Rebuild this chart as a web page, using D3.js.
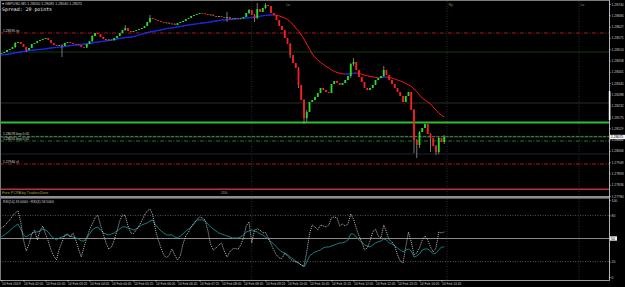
<!DOCTYPE html>
<html>
<head>
<meta charset="utf-8">
<script src="https://cdn.jsdelivr.net/npm/d3@7"></script>
<style>
  html, body { margin: 0; padding: 0; background: #000; overflow: hidden; }
  svg { display: block; font-family: "Liberation Sans", Arial, sans-serif; }
</style>
</head>
<body>
<svg id="chart" width="625" height="287"></svg>
<script>
// ---- data ----
const symbol = 'GBPUSD,M5';
const spreadPoints = 20;

const priceTicks = [1.28740, 1.28684, 1.28627, 1.28571, 1.28514, 1.28458, 1.28401, 1.28345, 1.28288,
  1.28232, 1.28175, 1.28119, 1.28062, 1.28006, 1.27949, 1.27893, 1.27836, 1.27780];

const timeLabels = ['14 Feb 2019', '14 Feb 02:05', '14 Feb 02:45', '14 Feb 03:25', '14 Feb 04:05',
  '14 Feb 04:45', '14 Feb 05:25', '14 Feb 06:05', '14 Feb 06:45', '14 Feb 07:25', '14 Feb 08:05',
  '14 Feb 08:45', '14 Feb 09:25', '14 Feb 10:05', '14 Feb 10:45', '14 Feb 11:25', '14 Feb 12:05',
  '14 Feb 12:45', '14 Feb 13:25', '14 Feb 14:05', '14 Feb 14:45'];
const barsPerLabel = 8;

const firstOpen = 1.28492;
const closes = [
  1.28495, 1.28500, 1.28510, 1.28515, 1.28525, 1.28545, 1.28550, 1.28540, 1.28525, 1.28510,
  1.28520, 1.28540, 1.28545, 1.28555, 1.28560, 1.28565, 1.28570, 1.28560, 1.28545, 1.28535,
  1.28530, 1.28535, 1.28530, 1.28545, 1.28550, 1.28545, 1.28540, 1.28538, 1.28535, 1.28525,
  1.28522, 1.28540, 1.28555, 1.28580, 1.28595, 1.28590, 1.28575, 1.28565, 1.28560, 1.28562,
  1.28558, 1.28570, 1.28580, 1.28595, 1.28610, 1.28620, 1.28605, 1.28600, 1.28605, 1.28610,
  1.28615, 1.28620, 1.28630, 1.28650, 1.28670, 1.28665, 1.28660, 1.28655, 1.28650, 1.28645,
  1.28647, 1.28640, 1.28642, 1.28635, 1.28645, 1.28650, 1.28655, 1.28665, 1.28670, 1.28680,
  1.28685, 1.28690, 1.28695, 1.28693, 1.28690, 1.28685, 1.28687, 1.28680, 1.28675, 1.28680,
  1.28675, 1.28670, 1.28675, 1.28665, 1.28667, 1.28670, 1.28665, 1.28668, 1.28675, 1.28695,
  1.28710, 1.28685, 1.28670, 1.28715, 1.28700, 1.28720, 1.28735, 1.28730, 1.28695, 1.28685,
  1.28660, 1.28630, 1.28610, 1.28570, 1.28540, 1.28485, 1.28445, 1.28420, 1.28335, 1.28260,
  1.28170, 1.28200, 1.28250, 1.28260, 1.28275, 1.28295, 1.28320, 1.28310, 1.28300, 1.28295,
  1.28340, 1.28355, 1.28345, 1.28335, 1.28345, 1.28360, 1.28380, 1.28440, 1.28450, 1.28410,
  1.28375, 1.28350, 1.28320, 1.28310, 1.28320, 1.28335, 1.28360, 1.28370, 1.28380, 1.28410,
  1.28385, 1.28360, 1.28340, 1.28320, 1.28300, 1.28280, 1.28250, 1.28280, 1.28300, 1.28210,
  1.28060, 1.28035, 1.28100, 1.28120, 1.28140, 1.28090, 1.28070, 1.28030, 1.28000, 1.28070,
  1.28050, 1.28075
];

// bars whose high/low reach beyond the body: [bar, high, low]
const wicks = [
  [5, 1.28550, 1.28520], [9, 1.28525, 1.28500], [22, 1.28540, 1.28475], [33, 1.28585, 1.28550],
  [45, 1.28635, 1.28605], [54, 1.28685, 1.28645], [82, 1.28700, 1.28650], [90, 1.28715, 1.28690],
  [92, 1.28690, 1.28650], [93, 1.28745, 1.28665], [96, 1.28745, 1.28715], [105, 1.28545, 1.28470],
  [108, 1.28425, 1.28320], [110, 1.28265, 1.28140], [111, 1.28210, 1.28150], [127, 1.28445, 1.28370],
  [128, 1.28470, 1.28430], [139, 1.28430, 1.28375], [150, 1.28215, 1.27995], [151, 1.28065, 1.27970],
  [152, 1.28105, 1.28020], [156, 1.28095, 1.28000], [158, 1.28035, 1.27985], [159, 1.28075, 1.27990],
  [161, 1.28085, 1.28040]
];

const maLine = [
  1.28485, 1.28487, 1.28488, 1.28490, 1.28493, 1.28495, 1.28498, 1.28500, 1.28503, 1.28505,
  1.28508, 1.28509, 1.28510, 1.28512, 1.28513, 1.28514, 1.28515, 1.28518, 1.28520, 1.28522,
  1.28523, 1.28524, 1.28525, 1.28528, 1.28530, 1.28532, 1.28533, 1.28534, 1.28535, 1.28538,
  1.28540, 1.28542, 1.28543, 1.28545, 1.28548, 1.28550, 1.28552, 1.28554, 1.28555, 1.28558,
  1.28560, 1.28563, 1.28565, 1.28568, 1.28570, 1.28572, 1.28573, 1.28575, 1.28577, 1.28580,
  1.28585, 1.28589, 1.28593, 1.28597, 1.28600, 1.28603, 1.28605, 1.28608, 1.28610, 1.28614,
  1.28617, 1.28619, 1.28621, 1.28623, 1.28625, 1.28628, 1.28630, 1.28633, 1.28635, 1.28637,
  1.28639, 1.28641, 1.28643, 1.28645, 1.28646, 1.28648, 1.28650, 1.28653, 1.28655, 1.28657,
  1.28659, 1.28660, 1.28662, 1.28663, 1.28664, 1.28665, 1.28666, 1.28668, 1.28669, 1.28670,
  1.28671, 1.28673, 1.28674, 1.28677, 1.28679, 1.28681, 1.28683, 1.28684, 1.28685, 1.28685,
  1.28684, 1.28680, 1.28675, 1.28670, 1.28663, 1.28650, 1.28638, 1.28620, 1.28605, 1.28585,
  1.28565, 1.28540, 1.28515, 1.28490, 1.28473, 1.28460, 1.28448, 1.28438, 1.28428, 1.28420,
  1.28410, 1.28403, 1.28398, 1.28394, 1.28391, 1.28389, 1.28390, 1.28392, 1.28394, 1.28395,
  1.28392, 1.28389, 1.28385, 1.28381, 1.28378, 1.28375, 1.28373, 1.28371, 1.28372, 1.28374,
  1.28375, 1.28373, 1.28370, 1.28365, 1.28360, 1.28355, 1.28350, 1.28343, 1.28335, 1.28328,
  1.28315, 1.28303, 1.28285, 1.28270, 1.28260, 1.28250, 1.28240, 1.28225, 1.28210, 1.28195,
  1.28183, 1.28175
];

const rsiFast = [
  63.7, 66.3, 70.2, 74.1, 79.3, 83.2, 85.8, 71.5, 48.1, 33.8,
  42.9, 55.9, 61.1, 48.1, 59.8, 66.3, 55.9, 46.8, 35.1, 27.3,
  22.1, 36.4, 45.5, 54.6, 55.9, 52.0, 57.2, 48.1, 36.4, 26.0,
  39.0, 50.7, 61.1, 68.9, 76.7, 80.6, 67.6, 55.9, 44.2, 36.4,
  39.0, 48.1, 59.8, 72.8, 80.6, 79.8, 66.3, 57.2, 56.5, 61.1,
  66.3, 72.8, 80.6, 85.8, 88.4, 80.6, 61.1, 48.1, 37.7, 28.6,
  24.7, 28.6, 36.4, 28.6, 22.1, 27.3, 42.9, 53.3, 58.5, 65.0,
  70.2, 74.1, 78.0, 76.7, 74.1, 61.1, 42.9, 35.1, 37.7, 41.6,
  44.2, 33.8, 26.0, 32.5, 36.4, 37.0, 36.0, 41.6, 50.7, 66.3,
  71.5, 44.2, 61.1, 62.4, 61.1, 57.2, 57.8, 50.7, 42.9, 35.1,
  28.6, 24.7, 24.2, 31.2, 27.3, 23.4, 20.8, 19.5, 18.2, 15.6,
  14.3, 32.5, 55.9, 67.6, 65.0, 61.1, 67.6, 66.3, 65.0, 67.6,
  76.7, 78.0, 76.7, 66.3, 68.9, 66.3, 68.9, 81.9, 75.4, 63.7,
  53.3, 45.5, 35.1, 37.7, 46.8, 58.5, 62.4, 53.3, 50.7, 67.6,
  58.5, 48.1, 45.5, 40.3, 28.6, 20.8, 18.2, 39.0, 58.5, 45.5,
  28.6, 31.2, 37.7, 48.1, 53.3, 48.1, 39.0, 32.5, 37.7, 58.5,
  57.2, 58.5
];

const rsiSlow = [
  52.0, 54.6, 57.2, 59.8, 63.7, 66.3, 68.9, 62.4, 54.6, 52.0,
  54.6, 55.9, 58.5, 58.5, 59.8, 62.4, 61.1, 58.5, 53.3, 50.7,
  48.1, 50.7, 52.0, 53.3, 54.6, 53.3, 52.0, 50.7, 49.4, 46.8,
  46.8, 50.7, 55.9, 61.1, 63.7, 65.0, 61.1, 57.2, 55.9, 54.6,
  55.9, 57.2, 59.8, 62.4, 65.0, 65.0, 63.7, 62.4, 61.1, 62.4,
  65.0, 67.6, 68.9, 70.2, 72.8, 74.1, 67.6, 63.7, 59.8, 57.2,
  54.6, 54.6, 54.6, 52.0, 50.7, 53.3, 55.9, 59.8, 62.4, 65.0,
  68.9, 74.1, 74.1, 74.1, 72.8, 68.9, 65.0, 62.4, 59.8, 57.2,
  55.9, 54.6, 53.3, 52.0, 50.7, 50.7, 50.7, 52.0, 54.6, 58.5,
  59.8, 61.1, 59.8, 58.5, 55.9, 54.6, 52.0, 49.4, 45.5, 42.9,
  39.0, 35.1, 32.5, 31.2, 28.6, 26.0, 23.4, 20.8, 18.2, 15.6,
  13.0, 19.5, 27.3, 29.9, 32.5, 33.8, 35.1, 37.7, 39.0, 39.0,
  40.3, 41.6, 42.9, 44.2, 44.2, 45.5, 48.1, 55.9, 55.9, 52.0,
  48.1, 45.5, 41.6, 40.3, 39.0, 41.6, 44.2, 45.5, 46.8, 49.4,
  48.1, 44.2, 42.9, 40.3, 37.7, 35.1, 32.5, 35.1, 36.4, 33.8,
  26.0, 27.3, 29.9, 35.1, 36.4, 36.4, 33.8, 29.9, 31.2, 35.1,
  39.0, 39.0
];
const rsiLevels = [80, 50, 20];
const rsiTicks = [100, 80, 50, 20, 0];

const levelPrices = [1.28595, 1.28500, 1.28245, 1.28148, 1.28078, 1.28055, 1.27990, 1.27940, 1.27814];
const levelLabels = ['1.28595 tp', '', '', '', '1.28078 buy 0.05', '1.28055 buy 0.01', '', '1.27940 sl', ''];

const separatorBars = [91, 162, 210];
const sessionBars = [103.5, 162.5, 210.5];
const sessionNames = ['Lo', 'Ny', 'Lo'];

// ---- styles ----
const levelStyles = [
  { color: '#a3141a', w: 1, dash: '4,1.5,1,1.5' },
  { color: '#0f3f0f', w: 1, dash: null },
  { color: '#2c2c22', w: 1, dash: null },
  { color: '#2fbf2f', w: 2, dash: null },
  { color: '#2e9a2e', w: 1, dash: '3,1.5' },
  { color: '#217a21', w: 1, dash: '4,1.5,1,1.5' },
  { color: '#0e1826', w: 1.5, dash: null },
  { color: '#b01818', w: 1, dash: '4,1.5,1,1.5' },
  { color: '#b83232', w: 1.5, dash: null }
];

const width = 625, height = 287;
const right = 609;
const mainBottom = 196, subTop = 199, subBottom = 280;

const svg = d3.select('#chart').attr('viewBox', [0, 0, width, height]);

const x = d3.scaleLinear().domain([0, 220]).range([1.5, 606.5]);
const y = d3.scaleLinear().domain([1.27780, 1.28740]).range([196, 4]);
const yR = d3.scaleLinear().domain([0, 100]).range([277, 200]);

svg.append('rect').attr('width', width).attr('height', height).attr('fill', '#000');

// period separators
svg.append('g')
  .attr('stroke', '#3a3a3a').attr('stroke-width', 0.8).attr('stroke-dasharray', '1,1.5')
  .selectAll('line').data(separatorBars).join('line')
  .attr('x1', d => x(d)).attr('x2', d => x(d))
  .attr('y1', 1).attr('y2', subBottom);

svg.append('g')
  .attr('fill', '#8c8c46').attr('font-size', 3.6)
  .selectAll('text').data(sessionBars).join('text')
  .attr('x', d => x(d)).attr('y', 5.5)
  .text((d, i) => sessionNames[i]);

// horizontal levels
svg.append('g').selectAll('line').data(levelPrices).join('line')
  .attr('x1', 0).attr('x2', right)
  .attr('y1', d => y(d)).attr('y2', d => y(d))
  .attr('stroke', (d, i) => levelStyles[i].color)
  .attr('stroke-width', (d, i) => levelStyles[i].w)
  .attr('stroke-dasharray', (d, i) => levelStyles[i].dash);

// bid line
const last = closes[closes.length - 1];
svg.append('line')
  .attr('x1', 0).attr('x2', right).attr('y1', y(last)).attr('y2', y(last))
  .attr('stroke', '#5a5a5a').attr('stroke-width', 0.6);

svg.append('g')
  .attr('fill', '#d4d4d4').attr('font-size', 3.4)
  .selectAll('text').data(levelPrices).join('text')
  .attr('x', 3).attr('y', d => y(d) - 1.2)
  .text((d, i) => levelLabels[i]);

// moving average, coloured by direction
const maSegs = d3.range(1, maLine.length).map(i => ({ i, up: maLine[i] >= maLine[i - 1] }));
svg.append('g').selectAll('line').data(maSegs).join('line')
  .attr('x1', d => x(d.i - 1)).attr('x2', d => x(d.i))
  .attr('y1', d => y(maLine[d.i - 1])).attr('y2', d => y(maLine[d.i]))
  .attr('stroke', d => d.up ? '#1c2cff' : '#ff1414')
  .attr('stroke-width', d => d.up ? 1.3 : 1);

// candles
const wickMap = new Map(wicks.map(w => [w[0], w]));
const candles = closes.map((c, i) => {
  const o = i ? closes[i - 1] : firstOpen;
  const w = wickMap.get(i);
  return { i, o, c, h: w ? w[1] : Math.max(o, c), l: w ? w[2] : Math.min(o, c) };
});

const cg = svg.append('g');
cg.selectAll('line').data(candles).join('line')
  .attr('x1', d => x(d.i)).attr('x2', d => x(d.i))
  .attr('y1', d => y(d.h)).attr('y2', d => y(d.l))
  .attr('stroke', '#a8a8a8').attr('stroke-width', 0.7);
cg.selectAll('rect').data(candles).join('rect')
  .attr('x', d => x(d.i) - 0.9).attr('width', 1.8)
  .attr('y', d => y(Math.max(d.o, d.c)))
  .attr('height', d => Math.max(0.8, Math.abs(y(d.o) - y(d.c))))
  .attr('fill', d => d.c > d.o ? '#22e022' : d.c < d.o ? '#ff1c1c' : '#d0d0d0');

// header texts
const lastC = candles[candles.length - 1];
svg.append('text').attr('x', 2).attr('y', 4.6).attr('font-size', 3.6).attr('fill', '#d0d0d0')
  .text(`\u25BE ${symbol}  ${[lastC.o, lastC.h, lastC.l, lastC.c].map(d3.format('.5f')).join(' ')}`);
svg.append('text').attr('x', 2).attr('y', 10.6).attr('font-size', 4.9)
  .attr('font-family', '"DejaVu Sans Mono", monospace').attr('fill', '#ececec')
  .text(`Spread: ${spreadPoints} points`);

svg.append('text').attr('x', 2).attr('y', 194.3).attr('font-size', 3.8).attr('fill', '#a8a23a')
  .text('Free PCPA by TradersZone');
svg.append('text').attr('x', 221).attr('y', 193.5).attr('font-size', 3.2).attr('fill', '#b0b0b0')
  .text('15%');

// pane separator
svg.append('rect').attr('x', 0).attr('y', mainBottom).attr('width', right).attr('height', 2.6)
  .attr('fill', '#8e8e8e');

// indicator pane
svg.append('g').selectAll('line').data(rsiLevels).join('line')
  .attr('x1', 0).attr('x2', right)
  .attr('y1', d => yR(d)).attr('y2', d => yR(d))
  .attr('stroke', d => d === 50 ? '#9a9a9a' : '#6a6a6a')
  .attr('stroke-width', d => d === 50 ? 0.9 : 0.8)
  .attr('stroke-dasharray', d => d === 50 ? null : '1,1.5');

const rsiPath = d3.line().x((d, i) => x(i)).y(d => yR(d));
svg.append('path').datum(rsiSlow).attr('d', rsiPath)
  .attr('fill', 'none').attr('stroke', '#1a8a8a').attr('stroke-width', 0.9);
svg.append('path').datum(rsiFast).attr('d', rsiPath)
  .attr('fill', 'none').attr('stroke', '#cfcfcf').attr('stroke-width', 0.9)
  .attr('stroke-dasharray', '1,1');

svg.append('text').attr('x', 3).attr('y', 202.8).attr('font-size', 3.4).attr('fill', '#cfcfcf')
  .text(`RSI(14) ${rsiSlow[rsiSlow.length - 1].toFixed(4)}  ~RSI(3) ${rsiFast[rsiFast.length - 1].toFixed(4)}`);

// frame
svg.append('line').attr('x1', 0.5).attr('x2', 0.5).attr('y1', 0).attr('y2', subBottom)
  .attr('stroke', '#7a7a7a').attr('stroke-width', 1);
svg.append('line').attr('x1', 0).attr('x2', right).attr('y1', 0.5).attr('y2', 0.5)
  .attr('stroke', '#7a7a7a').attr('stroke-width', 1);

// price axis
const priceAxis = svg.append('g')
  .attr('transform', `translate(${right},0)`)
  .call(d3.axisRight(y).tickValues(priceTicks).tickFormat(d3.format('.5f')).tickSize(1.5).tickPadding(1));
priceAxis.select('.domain').remove();
priceAxis.selectAll('line').attr('stroke', '#c0c0c0');
priceAxis.selectAll('text').attr('fill', '#c8c8c8').attr('font-size', 3.4);

// rsi axis
const rsiAxis = svg.append('g')
  .attr('transform', `translate(${right},0)`)
  .call(d3.axisRight(yR).tickValues(rsiTicks).tickSize(1.5).tickPadding(1));
rsiAxis.select('.domain').remove();
rsiAxis.selectAll('line').attr('stroke', '#c0c0c0');
rsiAxis.selectAll('text').attr('fill', '#c8c8c8').attr('font-size', 3.4);

svg.append('line').attr('x1', right + 0.5).attr('x2', right + 0.5).attr('y1', 0).attr('y2', subBottom)
  .attr('stroke', '#c8c8c8').attr('stroke-width', 0.9);
svg.append('rect').attr('x', right - 0.2).attr('y', 91).attr('width', 1.6).attr('height', 29)
  .attr('fill', '#ffffff');

// current price and mid-level markers
svg.append('rect').attr('x', right + 1).attr('y', y(last) - 2.2).attr('width', 15).attr('height', 4.4)
  .attr('fill', '#f0f0f0');
svg.append('text').attr('x', right + 2).attr('y', y(last) + 1.3).attr('font-size', 3.4).attr('fill', '#000')
  .text(d3.format('.5f')(last));
svg.append('rect').attr('x', right + 1).attr('y', yR(50) - 2.2).attr('width', 7).attr('height', 4.4)
  .attr('fill', '#f0f0f0');
svg.append('text').attr('x', right + 2).attr('y', yR(50) + 1.3).attr('font-size', 3.4).attr('fill', '#000')
  .text('50');

// time axis
const timeBars = timeLabels.map((d, k) => k * barsPerLabel);
const timeAxis = svg.append('g')
  .attr('transform', `translate(0,${subBottom})`)
  .call(d3.axisBottom(x).tickValues(timeBars).tickFormat((d, k) => timeLabels[k]).tickSize(1.5).tickPadding(0.8));
timeAxis.select('.domain').attr('stroke', '#9a9a9a').attr('d', `M0,0.5H${right + 1}`);
timeAxis.selectAll('line').attr('stroke', '#c0c0c0');
timeAxis.selectAll('text').attr('fill', '#c8c8c8').attr('font-size', 3.3).attr('text-anchor', 'start');
</script>
</body>
</html>
